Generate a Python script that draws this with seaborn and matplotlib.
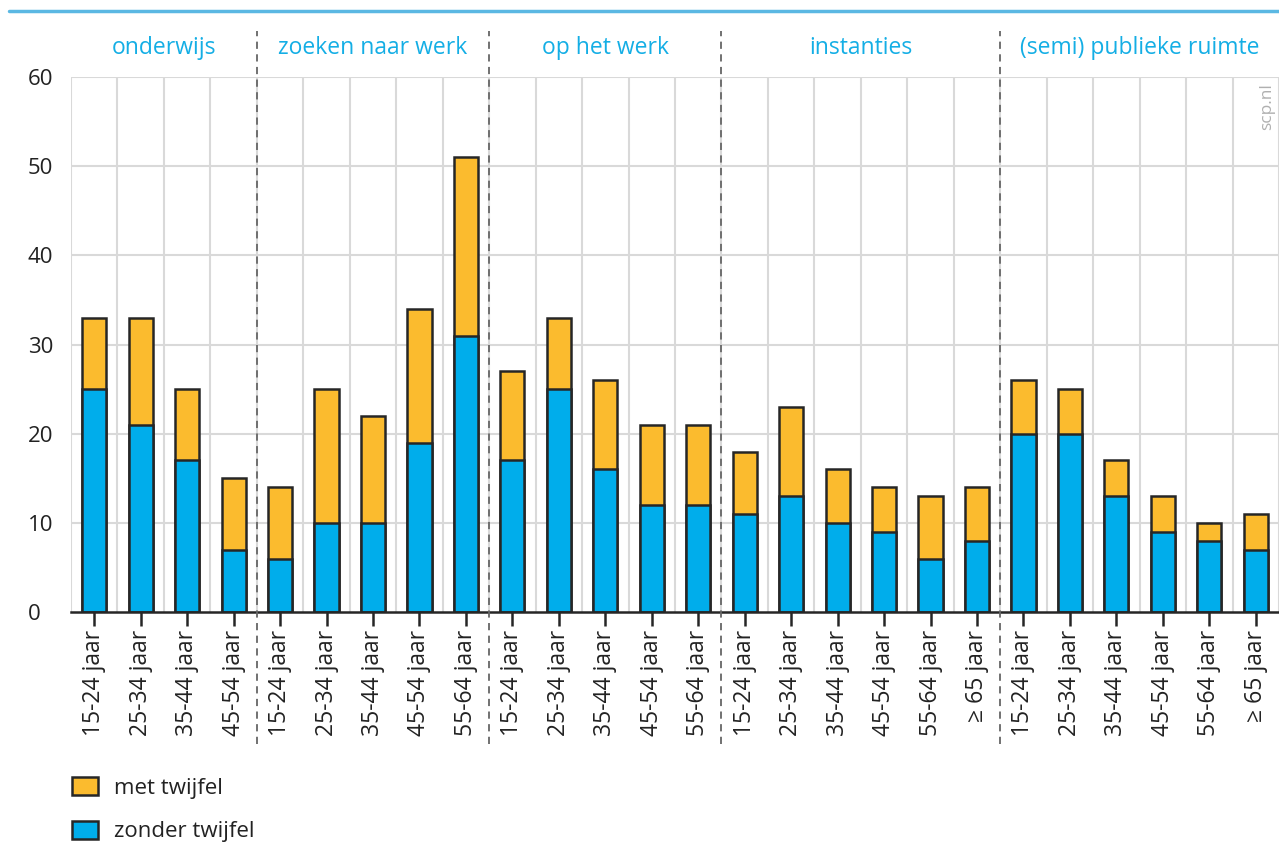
import pandas as pd
import numpy as np
import matplotlib
matplotlib.use("Agg")
import matplotlib.pyplot as plt
import seaborn as sns
from matplotlib.patches import Patch

# Data (percentages)
groups = ["onderwijs", "zoeken naar werk", "op het werk", "instanties", "(semi) publieke ruimte"]
ages = [
    ["15-24 jaar", "25-34 jaar", "35-44 jaar", "45-54 jaar"],
    ["15-24 jaar", "25-34 jaar", "35-44 jaar", "45-54 jaar", "55-64 jaar"],
    ["15-24 jaar", "25-34 jaar", "35-44 jaar", "45-54 jaar", "55-64 jaar"],
    ["15-24 jaar", "25-34 jaar", "35-44 jaar", "45-54 jaar", "55-64 jaar", "≥ 65 jaar"],
    ["15-24 jaar", "25-34 jaar", "35-44 jaar", "45-54 jaar", "55-64 jaar", "≥ 65 jaar"],
]
zonder_twijfel = [25, 21, 17, 7,
                  6, 10, 10, 19, 31,
                  17, 25, 16, 12, 12,
                  11, 13, 10, 9, 6, 8,
                  20, 20, 13, 9, 8, 7]
totaal = [33, 33, 25, 15,
          14, 25, 22, 34, 51,
          27, 33, 26, 21, 21,
          18, 23, 16, 14, 13, 14,
          26, 25, 17, 13, 10, 11]

rows = []
for g, a_list in zip(groups, ages):
    for a in a_list:
        rows.append((g, a))
df = pd.DataFrame(rows, columns=["groep", "leeftijd"])
df["key"] = [f"{i:02d}|{a}" for i, a in enumerate(df["leeftijd"])]
df["zonder"] = zonder_twijfel
df["totaal"] = totaal

orange = "#fbbb2e"
blue = "#00adeb"
cyan = "#14aee5"
edge = "#262626"

sns.set_theme(style="white")
plt.rcParams["font.family"] = ["Open Sans", "DejaVu Sans"]

fig = plt.figure(figsize=(12.79, 8.46), dpi=100)
ax = fig.add_axes([71 / 1279, 1 - 612 / 846, 1 - 71 / 1279, (612 - 77) / 846])

sns.barplot(data=df, x="key", y="totaal", color=orange, edgecolor=edge, linewidth=1.8,
            width=0.52, saturation=1, ax=ax, zorder=3)
sns.barplot(data=df, x="key", y="zonder", color=blue, edgecolor=edge, linewidth=1.8,
            width=0.52, saturation=1, ax=ax, zorder=4)

n = len(df)
ax.set_xlim(-0.5, n - 0.5)
ax.set_ylim(0, 60)
ax.set_yticks(range(0, 61, 10))
ax.set_yticklabels([str(v) for v in range(0, 61, 10)], fontsize=16, color="#222222")
ax.set_xticks(range(n))
ax.set_xticklabels(df["leeftijd"], rotation=90, fontsize=16.5, color="#222222")
ax.tick_params(axis="x", length=10, width=1.8, color=edge, pad=3, bottom=True)
ax.tick_params(axis="y", length=0, pad=31)
for lab in ax.get_yticklabels():
    lab.set_horizontalalignment("left")
ax.set_xlabel("")
ax.set_ylabel("")

# grid
for y in range(10, 61, 10):
    ax.axhline(y, color="#d9d9d9", lw=1.5, zorder=1)
for x in np.arange(-0.5, n, 1.0):
    ax.axvline(x, color="#d9d9d9", lw=1.5, zorder=1)
for s in ["top", "right", "left"]:
    ax.spines[s].set_visible(False)
ax.spines["bottom"].set_color(edge)
ax.spines["bottom"].set_linewidth(1.8)
ax.spines["bottom"].set_zorder(5)

# group separators and labels
sizes = [len(a) for a in ages]
bounds = np.cumsum([0] + sizes) - 0.5
for b in bounds[1:-1]:
    ax.plot([b, b], [-14.8, 65.2], ls=(0, (4, 3)), color="#666666", lw=1.3,
            clip_on=False, zorder=6)
for g, lo, hi in zip(groups, bounds[:-1], bounds[1:]):
    ax.text((lo + hi) / 2, 63.3, g, ha="center", va="center", fontsize=16.5,
            color=cyan, clip_on=False)

# top line
fig.add_artist(plt.Line2D([9 / 1279, 1], [1 - 11 / 846, 1 - 11 / 846],
                          color="#5bb8e3", lw=2.5))

# watermark
ax.text(n - 0.75, 59.3, "scp.nl", rotation=90, ha="center", va="top",
        fontsize=12.5, color="#b0b0b0")

# legend
handles = [Patch(facecolor=orange, edgecolor=edge, linewidth=1.8, label="met twijfel"),
           Patch(facecolor=blue, edgecolor=edge, linewidth=1.8, label="zonder twijfel")]
fig.legend(handles=handles, loc="upper left", bbox_to_anchor=(52 / 1279, 1 - 757 / 846),
           frameon=False, fontsize=16, handlelength=1.15, handleheight=0.85,
           labelspacing=1.0, handletextpad=0.75, labelcolor="#222222")

fig.savefig("out.png", dpi=100)
